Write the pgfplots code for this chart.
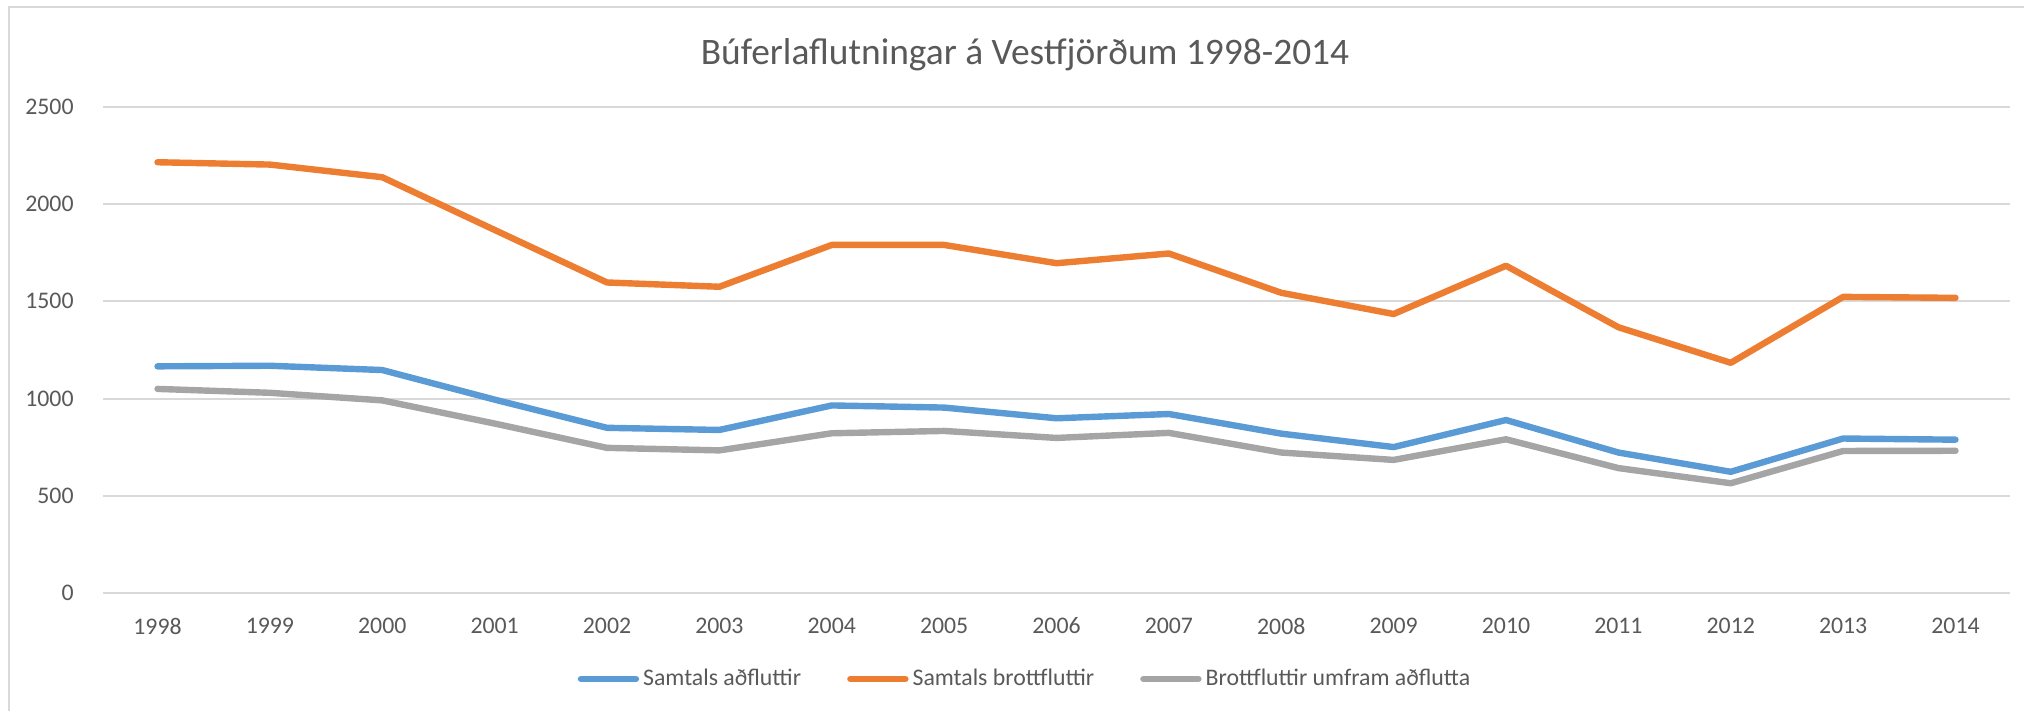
\documentclass[border=0pt]{standalone}
\usepackage{pgfplots}
\pgfplotsset{compat=1.18}
\usepackage{fontspec}
\setmainfont{Carlito}
\definecolor{cblue}{HTML}{5B9BD5}
\definecolor{corange}{HTML}{ED7D31}
\definecolor{cgray}{HTML}{A5A5A5}
\definecolor{gridc}{HTML}{D9D9D9}
\definecolor{txt}{HTML}{595959}
\begin{document}
\begin{tikzpicture}
\useasboundingbox (0,0) rectangle (1012pt,355.5pt);
\begin{axis}[
  at={(51.5pt,58.9pt)}, anchor=south west,
  scale only axis, width=953.5pt, height=243.2pt,
  xmin=-0.485, xmax=16.485, ymin=0, ymax=2500,
  ytick={0,500,1000,1500,2000,2500},
  xtick={0,...,16},
  xticklabels={1998,1999,2000,2001,2002,2003,2004,2005,2006,2007,2008,2009,2010,2011,2012,2013,2014},
  axis line style={draw=none},
  major tick length=0pt,
  ymajorgrids, grid style={gridc, line width=1pt},
  tick label style={font=\fontsize{11.9}{14}\selectfont, text=txt, inner sep=0pt},
  yticklabel style={anchor=east, xshift=-14.5pt},
  xticklabel style={anchor=north, yshift=-12.1pt},
  /pgf/number format/assume math mode=true,
  /pgf/number format/1000 sep={},
  legend style={at={(0.484,-0.1764)}, anchor=center, draw=none, fill=none,
    font=\fontsize{11.9}{14}\selectfont, text=txt, legend columns=3,
    /tikz/every even column/.append style={column sep=21pt},
    legend cell align=left, inner sep=0pt},
  legend image code/.code={\draw[#1, line cap=round] (0pt,0pt) -- (27.5pt,0pt);},
  every axis plot/.append style={line width=3.2pt, line join=round, line cap=round, mark=none},
]
\addplot[cblue] coordinates {(0,1166)(1,1169)(2,1147)(3,995)(4,850)(5,839)(6,965)(7,954)(8,899)(9,921)(10,820)(11,751)(12,890)(13,723)(14,624)(15,795)(16,789)};
\addlegendentry{Samtals aðfluttir}
\addplot[corange] coordinates {(0,2215)(1,2203)(2,2138)(3,1867)(4,1597)(5,1575)(6,1790)(7,1790)(8,1696)(9,1746)(10,1544)(11,1435)(12,1683)(13,1367)(14,1184)(15,1523)(16,1518)};
\addlegendentry{Samtals brottfluttir}
\addplot[cgray] coordinates {(0,1050)(1,1030)(2,991)(3,872)(4,747)(5,734)(6,822)(7,834)(8,798)(9,824)(10,723)(11,685)(12,791)(13,643)(14,565)(15,731)(16,732)};
\addlegendentry{Brottfluttir umfram aðflutta}
\end{axis}
\node[text=txt, font=\fontsize{18.7}{22}\selectfont] at (512.5pt,328pt) {Búferlaflutningar á Vestfjörðum 1998-2014};
\draw[gridc, line width=1pt] (4.5pt,0pt) -- (4.5pt,352pt) -- (1012pt,352pt);
\end{tikzpicture}
\end{document}
